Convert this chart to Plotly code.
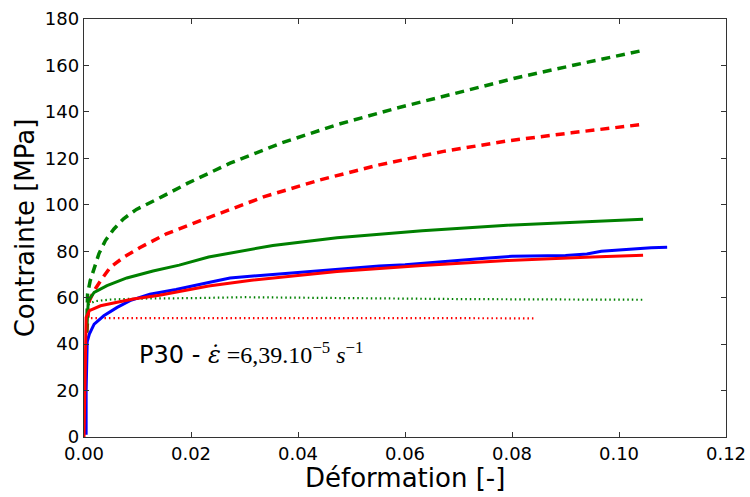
import plotly.graph_objects as go

# ---- data ----
green_dash_x = [0.0005, 0.00067, 0.00116, 0.0019, 0.0028, 0.0040, 0.0056, 0.0074, 0.0098, 0.0146, 0.0194,
                0.0273, 0.0369, 0.0473, 0.0584, 0.0696, 0.0807, 0.0919, 0.1045]
green_dash_y = [45, 61.6, 67.3, 73.0, 79.0, 84.6, 89.6, 94.0, 98.0, 103.5, 109.3,
                117.9, 126.6, 134.5, 141.6, 148.1, 154.6, 160.3, 166.5]

red_dash_x = [0.0005, 0.0010, 0.0019, 0.0031, 0.0049, 0.0074, 0.0104, 0.0154, 0.0233, 0.0337, 0.0441,
              0.0552, 0.0672, 0.0791, 0.0911, 0.1040]
red_dash_y = [45, 58.7, 63.0, 67.3, 73.0, 77.4, 81.5, 87.5, 94.5, 103.5, 110.7,
              117.2, 123.0, 127.5, 131.0, 134.5]

green_x = [0.0005, 0.0008, 0.0019, 0.0043, 0.0080, 0.0129, 0.0178, 0.0233, 0.0353, 0.0473, 0.0632,
           0.0791, 0.0950, 0.1045]
green_y = [45, 58.7, 62.3, 65.2, 68.5, 71.5, 74.0, 77.5, 82.5, 85.8, 88.8,
           91.2, 92.8, 93.8]

blue_x = [0.0004, 0.0004, 0.0006, 0.0010, 0.0019, 0.0037, 0.0062, 0.0086, 0.0123, 0.0172, 0.0233,
          0.0273, 0.0353, 0.0433, 0.0500, 0.0552, 0.0600, 0.0672, 0.0750, 0.0800, 0.0900, 0.0940,
          0.0967, 0.1000, 0.1030, 0.1060, 0.1090]
blue_y = [1, 20, 41, 44.3, 48.6, 52.2, 55.8, 58.7, 61.5, 63.5, 66.5,
          68.5, 70.0, 71.4, 72.8, 73.6, 74.2, 75.7, 77.0, 77.8, 78.2, 78.8,
          80.0, 80.5, 81.1, 81.5, 81.7]

red_x = [0.0, 0.0002, 0.0004, 0.0010, 0.0031, 0.0062, 0.0092, 0.0141, 0.0233, 0.0313, 0.0473,
         0.0632, 0.0791, 0.0950, 0.1045]
red_y = [0, 25, 51.5, 54.4, 56.5, 58.0, 59.4, 61.0, 65.0, 67.5, 71.3,
         73.8, 76.0, 77.5, 78.3]

green_dot_x = [0.0008, 0.0020, 0.0050, 0.0100, 0.0200, 0.0300, 0.0400, 0.0500, 0.0600, 0.0700,
               0.0800, 0.0900, 0.1045]
green_dot_y = [57.0, 58.5, 59.2, 59.6, 59.8, 60.2, 60.0, 59.7, 59.6, 59.4, 59.3, 59.2, 59.1]

red_dot_x = [0.0013, 0.0200, 0.0400, 0.0600, 0.0840]
red_dot_y = [51.2, 51.3, 51.3, 51.2, 51.1]

x_ticks = [0.0, 0.02, 0.04, 0.06, 0.08, 0.10, 0.12]
y_ticks = [0, 20, 40, 60, 80, 100, 120, 140, 160, 180]

x_title = "Déformation [-]"
y_title = "Contrainte [MPa]"

GREEN = "#008000"
RED = "#ff0000"
BLUE = "#0000ff"

fig = go.Figure()

def add(x, y, color, width, dash):
    fig.add_trace(go.Scatter(x=x, y=y, mode="lines",
                             line=dict(color=color, width=width, dash=dash),
                             showlegend=False, hoverinfo="skip", cliponaxis=False))

add(green_dot_x, green_dot_y, GREEN, 2.2, "1.5px,3px")
add(red_dot_x, red_dot_y, RED, 2.2, "1.5px,3px")
add(green_dash_x, green_dash_y, GREEN, 3.5, "9px,6px")
add(red_dash_x, red_dash_y, RED, 3.5, "9px,6px")
add(green_x, green_y, GREEN, 3, "solid")
add(blue_x, blue_y, BLUE, 3, "solid")
add(red_x, red_y, RED, 3, "solid")

fig.add_annotation(
    x=0.0099, y=36, xref="x", yref="y", xanchor="left", yanchor="middle", showarrow=False,
    text=("P30 - <span style=\"font-family:'DejaVu Serif'\"><i>ε̇</i></span>"
          "<span style=\"font-family:'Liberation Serif'\"> =6,39.10"
          "<sup>−5</sup> <i>s</i><sup>−1</sup></span>"),
    font=dict(family="DejaVu Sans", size=24, color="black"),
)

# x axis title placed as an annotation for precise vertical position
fig.add_annotation(
    x=0.5, y=0, xref="paper", yref="paper", xanchor="center", yanchor="middle",
    yshift=-41, showarrow=False, text=x_title,
    font=dict(family="DejaVu Sans", size=26, color="black"),
)

axis_common = dict(
    showline=True, linecolor="#333333", linewidth=1.4, mirror="ticks",
    ticks="inside", ticklen=5, tickcolor="#333333", tickwidth=1,
    showgrid=False, zeroline=False, automargin=False,
    tickfont=dict(family="DejaVu Sans", size=18, color="black"),
)

fig.update_xaxes(range=[0, 0.120001], tickvals=x_ticks, ticktext=[f"{v:.2f}" for v in x_ticks],
                 **axis_common)
fig.update_yaxes(range=[0, 180.0001], tickvals=y_ticks, ticktext=[str(v) for v in y_ticks],
                 title=dict(text=y_title, font=dict(family="DejaVu Sans", size=26, color="black"),
                            standoff=2),
                 **axis_common)

fig.update_layout(
    width=750, height=497,
    margin=dict(l=84, r=24, t=19, b=60),
    plot_bgcolor="white", paper_bgcolor="white",
    font=dict(family="DejaVu Sans", color="black"),
)

fig.write_html("out.html", config={"displayModeBar": False},
               post_script="document.body.style.margin='0';document.body.style.padding='0';")
